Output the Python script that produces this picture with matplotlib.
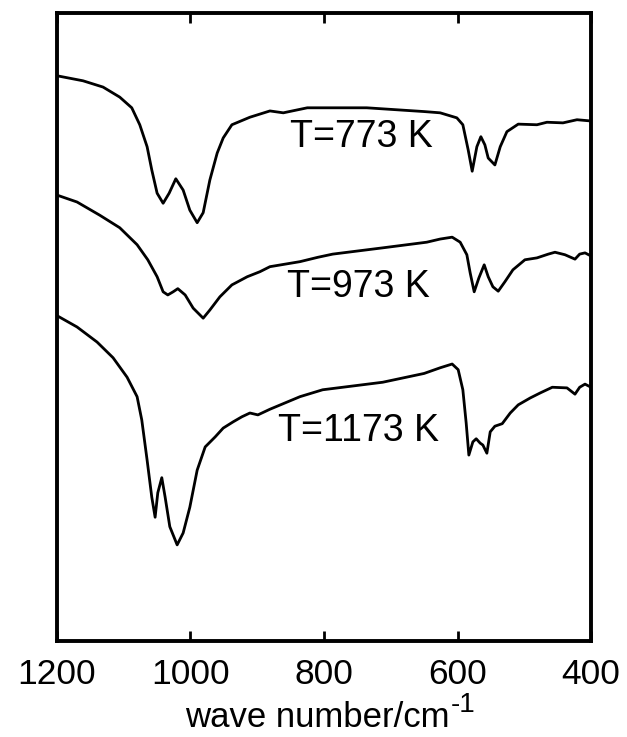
import matplotlib
matplotlib.use("Agg")
import matplotlib.pyplot as plt

plt.rcParams["font.family"] = ["Liberation Sans", "DejaVu Sans"]

# ── Data (y in arbitrary transmission units) ─────────────────────────────
wn_773 = [1200, 1161, 1131, 1106, 1088, 1076, 1065, 1058, 1050, 1041,
          1032, 1022, 1011, 1001, 990, 981, 971, 960, 951, 938,
          929, 911, 881, 861, 825, 736, 650, 626, 601, 592,
          584, 578, 571, 565, 559, 554, 544, 536, 526, 509,
          481, 466, 442, 421, 400]
t_773 = [90.0, 89.2, 88.2, 86.6, 84.9, 82.2, 78.7, 75.0, 71.3, 69.7,
         71.3, 73.6, 71.8, 68.6, 66.6, 68.2, 73.4, 77.7, 80.1, 82.2,
         82.6, 83.4, 84.4, 84.1, 84.9, 84.9, 84.3, 84.1, 83.3, 82.2,
         78.2, 74.8, 78.7, 80.3, 79.0, 76.9, 75.8, 78.7, 81.1, 82.3,
         82.2, 82.6, 82.5, 83.0, 82.8]

wn_973 = [1200, 1170, 1136, 1106, 1080, 1064, 1050, 1041, 1034, 1026,
          1019, 1008, 996, 981, 971, 956, 938, 915, 896, 881,
          836, 809, 787, 712, 646, 626, 608, 596, 586, 581,
          575, 568, 560, 554, 547, 539, 529, 517, 499, 481,
          464, 454, 439, 424, 417, 409, 400]
t_973 = [71.0, 69.9, 67.8, 65.8, 63.1, 60.7, 58.0, 55.6, 55.1, 55.6,
         56.1, 55.1, 53.0, 51.4, 52.7, 54.8, 56.7, 58.0, 58.8, 59.6,
         60.4, 61.1, 61.6, 62.6, 63.5, 64.0, 64.3, 63.5, 61.5, 58.6,
         55.6, 57.8, 59.9, 58.0, 56.4, 55.7, 57.2, 59.1, 60.7, 61.0,
         61.6, 61.9, 61.5, 60.8, 61.6, 61.8, 61.3]

wn_1173 = [1200, 1170, 1140, 1116, 1095, 1080, 1073, 1065, 1058, 1053,
           1049, 1043, 1038, 1031, 1020, 1011, 1001, 990, 978, 963,
           951, 936, 923, 911, 899, 881, 836, 802, 712, 650,
           626, 608, 599, 592, 587, 583, 577, 572, 566, 562,
           556, 551, 544, 533, 521, 509, 491, 476, 458, 436,
           424, 417, 409, 400]
t_1173 = [51.8, 50.0, 47.6, 45.1, 42.0, 38.9, 35.2, 28.8, 22.9, 19.7,
          23.6, 26.0, 22.9, 18.2, 15.3, 17.2, 21.3, 27.2, 30.9, 32.5,
          33.9, 34.9, 35.7, 36.3, 36.0, 36.9, 38.9, 40.0, 41.2, 42.6,
          43.5, 44.1, 43.2, 40.0, 34.7, 29.6, 31.7, 32.2, 31.5, 31.2,
          29.9, 33.3, 34.2, 34.6, 36.3, 37.6, 38.7, 39.5, 40.4, 40.3,
          39.3, 40.4, 40.9, 40.4]

labels = ["T=773 K", "T=973 K", "T=1173 K"]
label_x = [851, 855, 869]
label_y = [80.3, 56.4, 33.4]

x_ticks = [1200, 1000, 800, 600, 400]

fig = plt.figure(figsize=(6.27, 7.37), dpi=100)
ax = fig.add_axes([0.0909, 0.1303, 0.8517, 0.8521])

for wn, t in [(wn_773, t_773), (wn_973, t_973), (wn_1173, t_1173)]:
    ax.plot(wn, t, color="black", linewidth=2.0,
            solid_joinstyle="round", solid_capstyle="round")

for text, x, y in zip(labels, label_x, label_y):
    ax.text(x, y, text, fontsize=27, ha="left", va="center")

ax.set_xlim(1200, 400)
ax.set_ylim(0, 100)
ax.set_xticks(x_ticks)
ax.set_xticklabels([str(v) for v in x_ticks], fontsize=25.5)
ax.set_yticks([])
ax.tick_params(axis="x", direction="in", top=True, length=7, width=2, pad=12.5)
for s in ax.spines.values():
    s.set_linewidth(2.8)

# axis label with a larger superscript than mathtext gives
xlab = fig.text(0.295, 0.0136, "wave number/cm", fontsize=25,
                ha="left", va="baseline")
ax.annotate("-1", xy=(1, 1), xycoords=xlab, xytext=(1, -3),
            textcoords="offset points", fontsize=20, ha="left", va="center")

fig.savefig("out.png", dpi=100)
